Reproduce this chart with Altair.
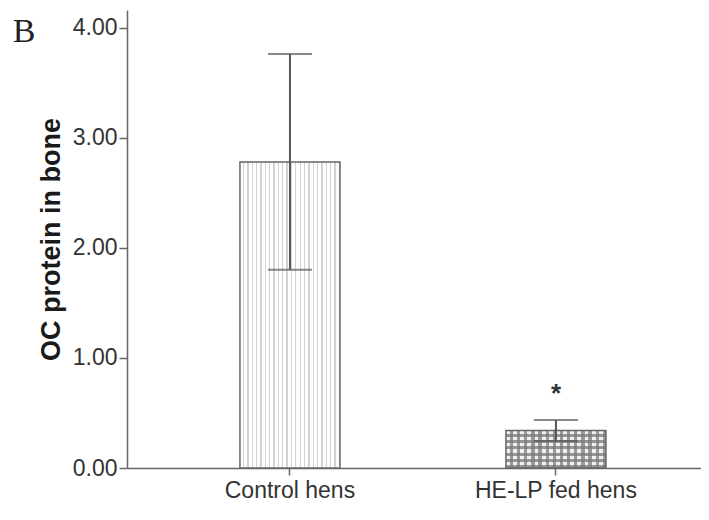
import altair as alt
import pandas as pd

groups = ["Control hens", "HE-LP fed hens"]
means = [2.78, 0.34]
errors = [0.98, 0.095]
sig = ["", "*"]
y_ticks = [0, 1, 2, 3, 4]

df = pd.DataFrame({"group": groups, "mean": means, "err": errors, "sig": sig})
df["lo"] = df["mean"] - df["err"]
df["hi"] = df["mean"] + df["err"]


def stripes(n, frac, color, bg, vertical):
    stops = []
    for k in range(n):
        a = k / n
        b = (k + 1 - frac) / n
        c = (k + 1) / n
        stops += [
            alt.GradientStop(offset=a, color=bg),
            alt.GradientStop(offset=b, color=bg),
            alt.GradientStop(offset=b, color=color),
            alt.GradientStop(offset=c, color=color),
        ]
    if vertical:
        return alt.LinearGradient(gradient="linear", stops=stops, x1=0, x2=1, y1=0, y2=0)
    return alt.LinearGradient(gradient="linear", stops=stops, x1=0, x2=0, y1=0, y2=1)


grad_ctrl = stripes(23, 0.3, "#d2d2d2", "#ffffff", True)
grad_he_v = stripes(14, 0.45, "#9a9a9a", "#f0f0f0", True)
grad_he_h = stripes(6, 0.45, "rgba(120,120,120,0.75)", "rgba(255,255,255,0)", False)

x_enc = alt.X(
    "group:N",
    sort=groups,
    scale=alt.Scale(paddingInner=0.624, paddingOuter=0.391, align=0.543),
    axis=alt.Axis(title=None, labelAngle=0, labelFontSize=23, tickSize=7,
                  labelPadding=4, labelColor="#333333"),
)
y_enc = alt.Y(
    "mean:Q",
    scale=alt.Scale(domain=[0, 4.16], nice=False),
    axis=alt.Axis(title="OC protein in bone", values=y_ticks, format=".2f",
                  labelFontSize=23, labelColor="#333333", tickSize=8, labelPadding=2,
                  titleFontSize=27, titleFontWeight="bold", titleColor="#1a1a1a",
                  titlePadding=7, grid=False),
)

base = alt.Chart(df).encode(x=x_enc)

ctrl = base.transform_filter(alt.datum.group == "Control hens").mark_bar(fill=grad_ctrl).encode(y=y_enc)
he_v = base.transform_filter(alt.datum.group == "HE-LP fed hens").mark_bar(fill=grad_he_v).encode(y=y_enc)
he_h = base.transform_filter(alt.datum.group == "HE-LP fed hens").mark_bar(fill=grad_he_h).encode(y=y_enc)
outline = base.mark_bar(fill="transparent", stroke="#666666", strokeWidth=1.5).encode(y=y_enc)

rule = base.mark_rule(color="#555555", strokeWidth=2).encode(y="lo:Q", y2="hi:Q")
cap_hi = base.mark_tick(color="#555555", thickness=2, size=44).encode(y="hi:Q")
cap_lo = base.mark_tick(color="#555555", thickness=2, size=44).encode(y="lo:Q")
star = base.mark_text(fontSize=26, fontWeight="bold", dy=-26, color="#333333",
                      font="Liberation Sans").encode(y="hi:Q", text="sig:N")

panel = alt.Chart(pd.DataFrame({"t": ["B"]})).mark_text(
    font="Liberation Serif", fontSize=34, align="center", baseline="alphabetic", color="#222222"
).encode(text="t:N", x=alt.value(-103), y=alt.value(32))

chart = alt.layer(ctrl, he_v, he_h, outline, rule, cap_hi, cap_lo, star, panel).properties(
    width=574,
    height=458,
    padding={"left": 119, "top": 2, "right": 0, "bottom": 38},
    autosize=alt.AutoSizeParams(type="none"),
).configure_view(strokeWidth=0).configure_axis(
    labelFont="Liberation Sans", titleFont="Liberation Sans",
    domainColor="#666666", tickColor="#666666", domainWidth=1.5, tickWidth=1.5,
)

chart.save("out.html", embed_options={"renderer": "svg", "actions": False})
